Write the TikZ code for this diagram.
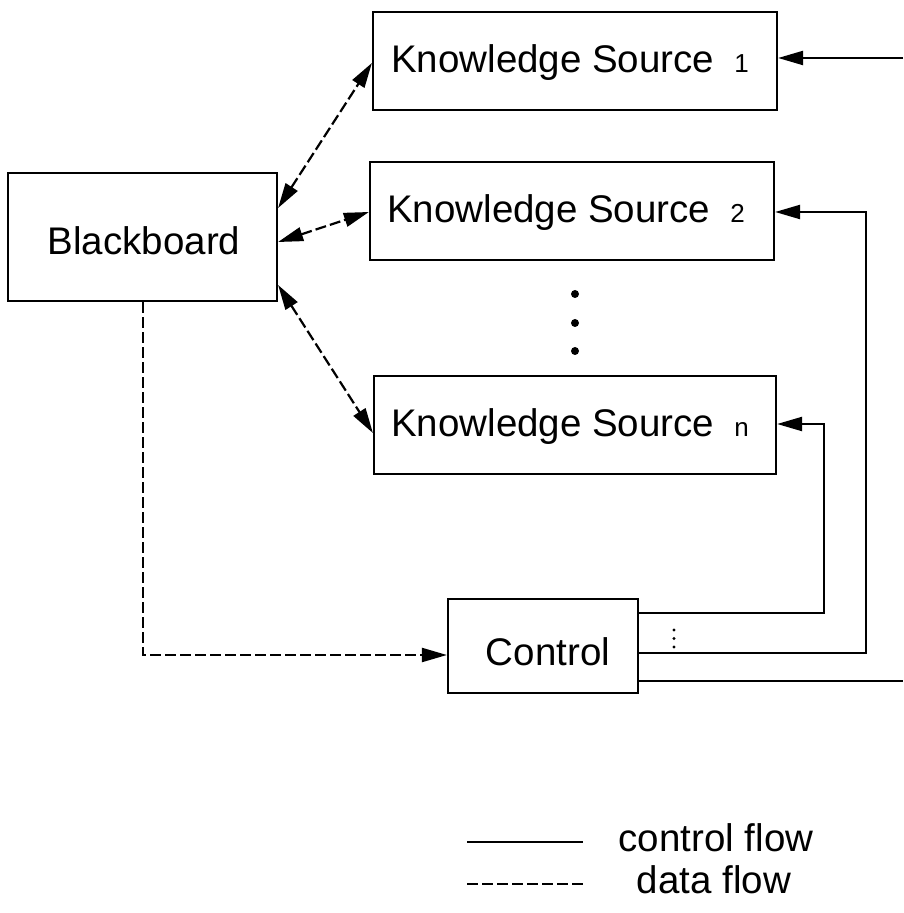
\documentclass[tikz,border=0pt]{standalone}
\usepackage{fontspec}
\setmainfont{Liberation Sans}
\usetikzlibrary{arrows.meta}
\newcommand\ksnum[1]{{\fontsize{13}{15}\selectfont #1}}
\begin{document}
\begin{tikzpicture}[x=0.5pt,y=-0.5pt,
  box/.style={draw, line width=1.1pt, inner sep=0pt},
  lbl/.style={anchor=base, inner sep=0pt, font=\fontsize{19.25}{23}\selectfont},
  ctl/.style={line width=1.1pt},
  dat/.style={line width=1.1pt, dash pattern=on 5.5pt off 2pt},
  tip/.style={-{Triangle[length=12.5pt,width=7pt]}},
  twotip/.style={{Triangle[length=12.5pt,width=7pt]}-{Triangle[length=12.5pt,width=7pt]}},
  dot/.style={fill=black}]
\useasboundingbox (0,0) rectangle (903,913);

% boxes
\node[box, minimum width=202pt, minimum height=49pt] (ks1) at (575,61) {};
\node[box, minimum width=202pt, minimum height=49pt] (ks2) at (572,211) {};
\node[box, minimum width=201pt, minimum height=49pt] (ksn) at (575,425) {};
\node[box, minimum width=134.5pt, minimum height=64pt] (bb) at (142.5,237) {};
\node[box, minimum width=95pt, minimum height=47pt] (ctrl) at (543,646) {};

% box captions
\node[lbl] (ks1t) at (570,73) {Knowledge Source\hspace{10pt}\ksnum{1}};
\node[lbl] (ks2t) at (566,223) {Knowledge Source\hspace{10pt}\ksnum{2}};
\node[lbl] (ksnt) at (570,437) {Knowledge Source\hspace{10pt}\ksnum{n}};
\node[lbl] (bbt) at (144,255) {Blackboard};
\node[lbl] (ctrlt) at (548,665) {Control};

% vertical ellipsis between the knowledge sources
\fill[dot] (575,294) circle[radius=2pt];
\fill[dot] (575,323) circle[radius=2pt];
\fill[dot] (575,351) circle[radius=2pt];

% data flow between blackboard and knowledge sources
\draw[dat, twotip] (bb.east |- 0,208) -- (ks1.west |- 0,63);
\draw[dat, twotip] (bb.east |- 0,242) -- (ks2.west |- 0,212);
\draw[dat, twotip] (bb.east |- 0,285) -- (ksn.west |- 0,433);

% data flow from blackboard to control
\draw[dat, tip] (bb.south -| 143,0) -- (143,655) -- (ctrl.west |- 0,655);

% control flow out of control
\coordinate (e1) at (903,58);
\coordinate (e2) at (903,681);
\draw[ctl, tip] (e1) -- (ks1.east |- e1);
\draw[ctl, tip] (ctrl.east |- 0,613) -- (824,613) -- (824,424) -- (ksn.east |- 0,424);
\draw[ctl, tip] (ctrl.east |- 0,653) -- (866,653) -- (866,212) -- (ks2.east |- 0,212);
\draw[ctl] (ctrl.east |- e2) -- (e2);
\fill[dot] (674,630) circle[radius=0.8pt];
\fill[dot] (674,638.5) circle[radius=0.8pt];
\fill[dot] (674,647) circle[radius=0.8pt];

% legend
\coordinate (l1a) at (467,842);
\coordinate (l1b) at (583,842);
\coordinate (l2a) at (467,884);
\coordinate (l2b) at (583,884);
\draw[ctl] (l1a) -- (l1b);
\draw[dat] (l2a) -- (l2b);
\node[lbl] (lg1) at (716,851) {control flow};
\node[lbl] (lg2) at (714,893) {data flow};
\end{tikzpicture}
\end{document}
